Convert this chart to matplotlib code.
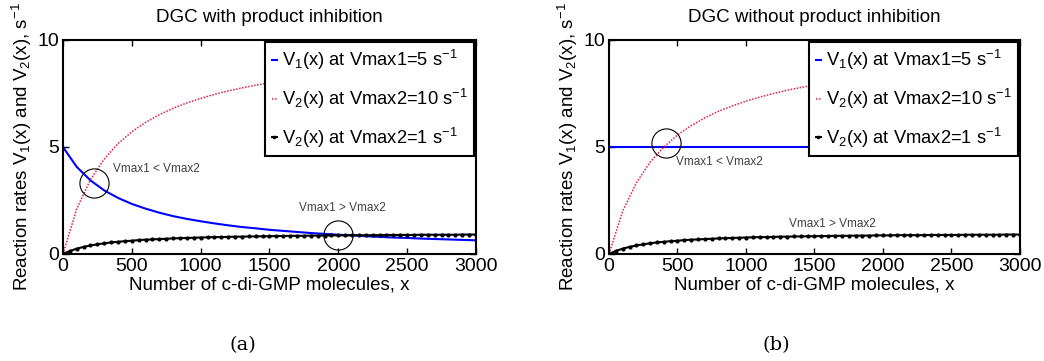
import numpy as np
import matplotlib
matplotlib.use("Agg")
import matplotlib.pyplot as plt

plt.rcParams['font.family'] = ['Liberation Sans', 'DejaVu Sans']
plt.rcParams['mathtext.fontset'] = 'custom'
plt.rcParams['mathtext.rm'] = 'Liberation Sans'
plt.rcParams['mathtext.it'] = 'Liberation Sans:italic'
plt.rcParams['mathtext.bf'] = 'Liberation Sans:bold'

# values
x_curve = [0, 100, 200, 300, 400, 500, 600, 700, 800, 900, 1000, 1100, 1200, 1300, 1400, 1500,
           1600, 1700, 1800, 1900, 2000, 2100, 2200, 2300, 2400, 2500, 2600, 2700, 2800, 2900, 3000]

# (a) with product inhibition
v1_inhib = [5.00, 4.07, 3.44, 2.97, 2.62, 2.34, 2.12, 1.93, 1.77, 1.64, 1.53, 1.43, 1.34, 1.26, 1.20, 1.13,
            1.08, 1.03, 0.98, 0.94, 0.90, 0.87, 0.83, 0.80, 0.77, 0.75, 0.72, 0.70, 0.68, 0.66, 0.64]
v2_fast_a = [0.00, 2.11, 3.48, 4.44, 5.16, 5.71, 6.15, 6.51, 6.81, 7.06, 7.27, 7.46, 7.62, 7.76, 7.89, 8.00]

# (b) without product inhibition
v1_const = [5.00, 5.00, 5.00, 5.00, 5.00, 5.00, 5.00, 5.00, 5.00, 5.00, 5.00, 5.00, 5.00, 5.00, 5.00, 5.00]
v2_fast_b = [0.00, 2.00, 3.33, 4.29, 5.00, 5.56, 6.00, 6.36, 6.67, 6.92, 7.14, 7.33, 7.50, 7.65, 7.78, 7.89]

# slow V2 (Vmax2 = 1), same in both panels, sampled at the markers
x_marks = list(range(0, 3001, 50))
v2_slow = [0.00, 0.14, 0.25, 0.33, 0.40, 0.45, 0.50, 0.54, 0.57, 0.60, 0.62, 0.65, 0.67, 0.68, 0.70, 0.71,
           0.73, 0.74, 0.75, 0.76, 0.77, 0.78, 0.79, 0.79, 0.80, 0.81, 0.81, 0.82, 0.82, 0.83, 0.83, 0.84,
           0.84, 0.85, 0.85, 0.85, 0.86, 0.86, 0.86, 0.87, 0.87, 0.87, 0.88, 0.88, 0.88, 0.88, 0.88, 0.89,
           0.89, 0.89, 0.89, 0.89, 0.90, 0.90, 0.90, 0.90, 0.90, 0.90, 0.91, 0.91, 0.91]

titles = ["DGC with product inhibition", "DGC without product inhibition"]
captions = ["(a)", "(b)"]
labels = ["V$_1$(x) at Vmax1=5 s$^{-1}$", "V$_2$(x) at Vmax2=10 s$^{-1}$", "V$_2$(x) at Vmax2=1 s$^{-1}$"]
circles = [[(225, 3.31), (1998, 0.89)], [(416, 5.17)]]
notes = [[("Vmax1 < Vmax2", 363, 3.96), ("Vmax1 > Vmax2", 1714, 2.14)],
         [("Vmax1 < Vmax2", 489, 4.29), ("Vmax1 > Vmax2", 1314, 1.40)]]

fig = plt.figure(figsize=(10.44, 3.61), dpi=100)
axes = [fig.add_axes([0.0603, 0.2964, 0.3956, 0.5928]),
        fig.add_axes([0.5833, 0.2964, 0.3937, 0.5928])]

v1_sets = [v1_inhib, v1_const]
v2_sets = [v2_fast_a, v2_fast_b]
x_short = x_curve[:16]

for i, ax in enumerate(axes):
    x1 = x_curve if i == 0 else x_short
    ax.plot(x1, v1_sets[i], color='#0000ff', lw=1.5, label=labels[0])
    ax.plot(x_short, v2_sets[i], color='#e0204a', lw=1.1, ls=(0, (1, 1)), label=labels[1])
    ax.plot(x_marks, v2_slow, color='black', lw=1.5, marker='.', ms=4, label=labels[2])
    for cx, cy in circles[i]:
        ax.plot([cx], [cy], marker='o', ms=21, mfc='none', mec='black', mew=0.8)
    for txt, tx, ty in notes[i]:
        ax.text(tx, ty, txt, fontsize=8.5, color='#404040', va='center', ha='left')

    ax.set_xlim(0, 3000)
    ax.set_ylim(0, 10)
    ax.set_xticks(range(0, 3001, 500))
    ax.set_yticks([0, 5, 10])
    ax.tick_params(direction='in', top=True, right=True, length=4, width=1,
                   labelsize=14, pad=3)
    for s in ax.spines.values():
        s.set_linewidth(1.5)
    ax.set_title(titles[i], fontsize=13.5, pad=13)
    ax.set_xlabel("Number of c-di-GMP molecules, x", fontsize=13.5, labelpad=1)
    ax.set_ylabel("Reaction rates V$_1$(x) and V$_2$(x), s$^{-1}$", fontsize=13.5, labelpad=2)
    leg = ax.legend(loc='upper right', fontsize=13.2, handlelength=0.3, handletextpad=0.25,
                    labelspacing=0.8, borderpad=0.35, borderaxespad=0.1, fancybox=False,
                    framealpha=1, edgecolor='black', markerscale=0.8)
    leg.get_frame().set_linewidth(1.5)
    leg.set_zorder(5)

fig.text(243 / 1044, 1 - 345 / 361, captions[0], fontsize=14, family='DejaVu Serif',
         ha='center', va='center')
fig.text(776 / 1044, 1 - 345 / 361, captions[1], fontsize=14, family='DejaVu Serif',
         ha='center', va='center')

fig.savefig("out.png", dpi=100)
